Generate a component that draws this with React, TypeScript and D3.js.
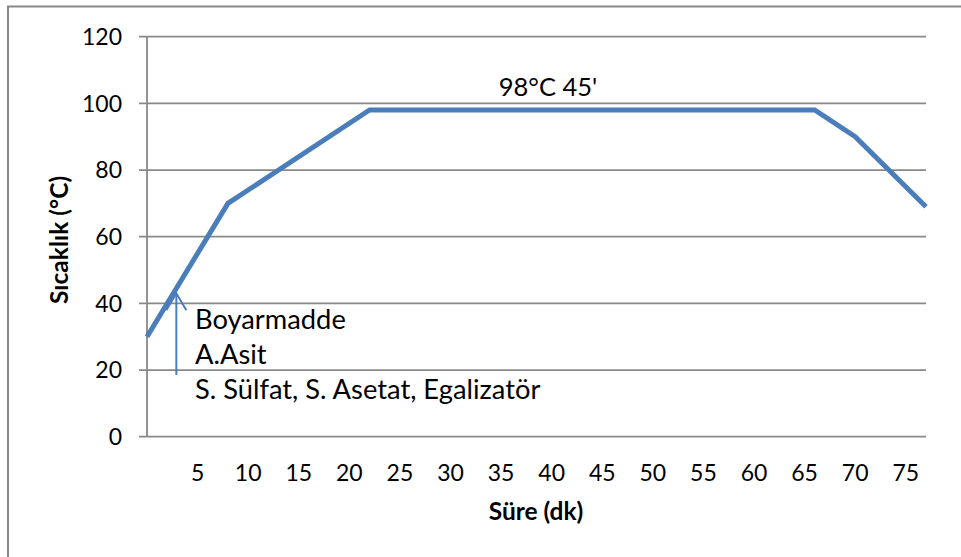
import React from "react";
import * as d3 from "d3";

const times = [0, 8, 22, 66, 70, 77];
const temps = [30, 70, 98, 98, 90, 69];
const yTicks = [0, 20, 40, 60, 80, 100, 120];
const xTicks = [5, 10, 15, 20, 25, 30, 35, 40, 45, 50, 55, 60, 65, 70, 75];
const noteLines = ["Boyarmadde", "A.Asit", "S. Sülfat, S. Asetat, Egalizatör"];
const holdLabel = "98°C 45'";
const arrowX = 2.9;
const arrowFrom = 18.5;
const arrowTo = 43;

const W = 961;
const H = 557;
const FONT = "Lato, 'Open Sans', sans-serif";

export default function App() {
  const x = d3.scaleLinear().domain([0, 77]).range([147, 926]);
  const y = d3.scaleLinear().domain([0, 120]).range([436.7, 36.7]);
  const data = times.map((t, i) => [t, temps[i]] as [number, number]);
  const line = d3
    .line<[number, number]>()
    .x((d) => x(d[0]))
    .y((d) => y(d[1]));
  const grid = "#898989";
  const blue = "#4a7ebb";
  const ax = x(arrowX);
  const ayTip = y(arrowTo);
  const ayBase = y(arrowFrom);
  return (
    <svg
      width={W}
      height={H}
      style={{ position: "absolute", left: 0, top: 0, background: "#fff" }}
      fontFamily={FONT}
    >
      <rect x={8} y={6.5} width={970} height={570} fill="#fff" stroke="#888" strokeWidth={2} />
      {yTicks.map((t) => (
        <g key={t}>
          <line x1={139} x2={926} y1={y(t)} y2={y(t)} stroke={grid} strokeWidth={1.8} />
          <text x={122} y={y(t)} dy="0.36em" textAnchor="end" fontSize={23} fill="#000">
            {t}
          </text>
        </g>
      ))}
      <line x1={x(0)} x2={x(0)} y1={y(120)} y2={y(0)} stroke={grid} strokeWidth={1.8} />
      {xTicks.map((t) => (
        <text key={t} x={x(t)} y={480.5} textAnchor="middle" fontSize={23} fill="#000">
          {t}
        </text>
      ))}
      <path d={line(data) || ""} fill="none" stroke={blue} strokeWidth={5} strokeLinejoin="miter" />
      <text x={548} y={96} textAnchor="middle" fontSize={25.5} fill="#000">
        {holdLabel}
      </text>
      <line x1={ax} x2={ax} y1={ayBase} y2={ayTip} stroke={blue} strokeWidth={2} />
      <polyline
        points={`${ax - 10},${ayTip + 17} ${ax},${ayTip} ${ax + 10},${ayTip + 17}`}
        fill="none"
        stroke={blue}
        strokeWidth={2}
      />
      {noteLines.map((s, i) => (
        <text key={s} x={195} y={328.5 + i * 35} fontSize={27.3} fill="#000">
          {s}
        </text>
      ))}
      <text
        transform={`translate(68,240) rotate(-90)`}
        textAnchor="middle"
        fontSize={24.5}
        fontWeight="bold"
        fill="#000"
      >
        Sıcaklık (°C)
      </text>
      <text x={536} y={519.5} textAnchor="middle" fontSize={24.5} fontWeight="bold" fill="#000">
        Süre (dk)
      </text>
    </svg>
  );
}
